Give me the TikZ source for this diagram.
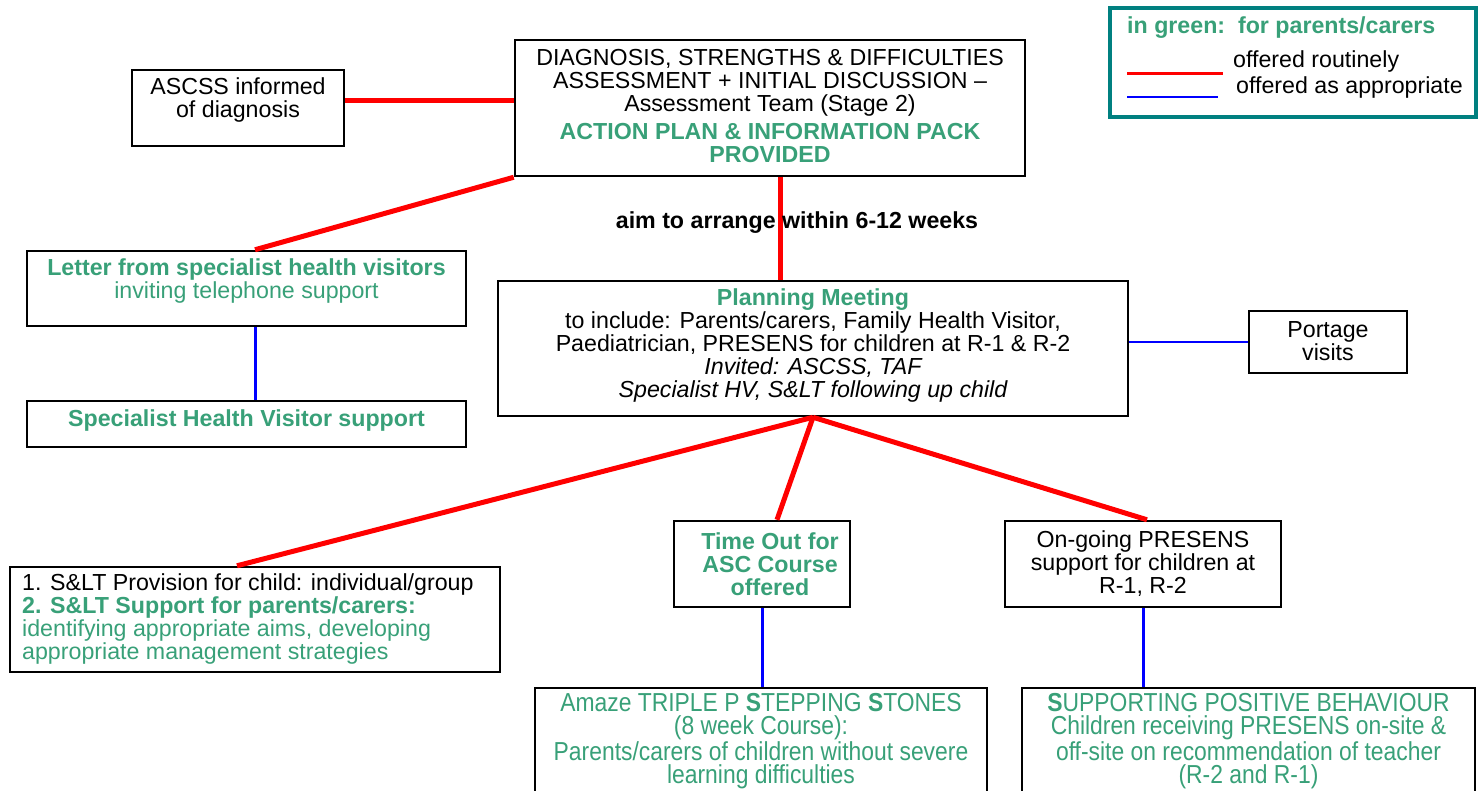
\documentclass[tikz,border=0pt]{standalone}
\usepackage{fontspec}
\setmainfont{Liberation Sans}
\newfontfamily\narrowsf[FakeStretch=0.88]{Liberation Sans}
\definecolor{pgreen}{RGB}{56,160,120}
\definecolor{lteal}{RGB}{0,128,128}
\begin{document}
\begin{tikzpicture}[x=1pt,y=-1pt,
  box/.style={draw=black, line width=2.5pt, rectangle, inner sep=0pt},
  txt/.style={font=\fontsize{23.2}{23}\selectfont, align=center, inner sep=0pt},
  btxt/.style={font=\bfseries\fontsize{23.2}{23}\selectfont, align=center, inner sep=0pt},
  ntxt/.style={font=\narrowsf\fontsize{26}{23.5}\selectfont, align=center, inner sep=0pt},
  routine/.style={draw=red, line width=5pt},
  approp/.style={draw=blue, line width=3pt},
  approptn/.style={draw=blue, line width=1.2pt}]
\useasboundingbox (0,0) rectangle (1478,790);
\clip (0,0) rectangle (1478,790);
% boxes
\node[box, minimum width=212pt, minimum height=76pt] (ascss) at (238,108) {};
\node[box, minimum width=510pt, minimum height=136pt] (top) at (770,108) {};
\node[draw=lteal, line width=3.5pt, rectangle, inner sep=0pt, minimum width=366pt, minimum height=109pt] (legend) at (1293,62.5) {};
\node[box, minimum width=439pt, minimum height=75pt] (letter) at (246.5,288.5) {};
\node[box, minimum width=439pt, minimum height=46pt] (shv) at (246.5,424) {};
\node[box, minimum width=630pt, minimum height=135pt] (plan) at (813,348.5) {};
\node[box, minimum width=158pt, minimum height=62pt] (portage) at (1328,342) {};
\node[box, minimum width=490pt, minimum height=105pt] (slt) at (255,619.5) {};
\node[box, minimum width=176pt, minimum height=86pt] (tout) at (762,564) {};
\node[box, minimum width=276pt, minimum height=86pt] (ongo) at (1143,564) {};
\node[box, minimum width=452pt, minimum height=122pt] (amaze) at (761,749) {};
\node[box, minimum width=453pt, minimum height=122pt] (spb) at (1248.5,749) {};
% connectors
\draw[routine] ([yshift=8pt]ascss.east) -- ([yshift=8pt]top.west);
\draw[routine] (top.south west) -- ([xshift=8.5pt]letter.north);
\draw[routine] ([xshift=10pt]top.south) -- ([xshift=-33pt]plan.north);
\draw[approp] ([xshift=8.5pt]letter.south) -- ([xshift=8.5pt]shv.north);
\draw[approptn] (plan.east |- portage.west) -- (portage.west);
\draw[routine] (plan.south) -- ([xshift=-18pt]slt.north);
\draw[routine] (plan.south) -- ([xshift=15pt]tout.north);
\draw[routine] (plan.south) -- ([xshift=4pt]ongo.north);
\draw[approp] (tout.south) -- (tout.south |- amaze.north);
\draw[approp] (ongo.south) -- (ongo.south |- spb.north);
% legend lines
\coordinate (r1) at (1127,73); \coordinate (r2) at (1223,73);
\coordinate (b1) at (1127,97); \coordinate (b2) at (1218,97);
\draw[red, line width=3pt] (r1) -- (r2);
\draw[blue, line width=1.5pt] (b1) -- (b2);
% texts
\node[txt] (tascss) at (238,100) {ASCSS informed\\of diagnosis};
\node[txt] (ttop) at (770,106) {DIAGNOSIS, STRENGTHS \& DIFFICULTIES\\ASSESSMENT + INITIAL DISCUSSION --\\Assessment Team (Stage 2)\\[5pt]
  \textcolor{pgreen}{\bfseries ACTION PLAN \& INFORMATION PACK}\\\textcolor{pgreen}{\bfseries PROVIDED}};
\node[btxt, anchor=west, text=pgreen] (tleg) at (1127,28) {in green:\ \ for parents/carers};
\node[txt, anchor=west] (tleg1) at (1233,62) {offered routinely};
\node[txt, anchor=west] (tleg2) at (1236,87) {offered as appropriate};
\node[btxt] (taim) at (797,223) {aim to arrange within 6-12 weeks};
\node[txt, text=pgreen] (tletter) at (246.5,281) {\bfseries Letter from specialist health visitors\\inviting telephone support};
\node[btxt, text=pgreen] (tshv) at (246.5,420) {Specialist Health Visitor support};
\node[txt] (tplan) at (813,345) {\textcolor{pgreen}{\bfseries Planning Meeting}\\to include: Parents/carers, Family Health Visitor,\\Paediatrician, PRESENS for children at R-1 \& R-2\\\itshape Invited: ASCSS, TAF\\\itshape Specialist HV, S\&LT following up child};
\node[txt] (tport) at (1328,341) {Portage\\visits};
\node[txt, anchor=west, align=left] (tslt) at (22,619) {1. S\&LT Provision for child: individual/group\\\textcolor{pgreen}{\bfseries 2. S\&LT Support for parents/carers:}\\\textcolor{pgreen}{identifying appropriate aims, developing}\\\textcolor{pgreen}{appropriate management strategies}};
\node[btxt, text=pgreen] (ttout) at (770,564) {Time Out for\\ASC Course\\offered};
\node[txt] (tongo) at (1143,564) {On-going PRESENS\\support for children at\\R-1, R-2};
\node[ntxt, text=pgreen] (tamaze) at (761,741) {Amaze TRIPLE P \textbf{S}TEPPING \textbf{S}TONES\\(8 week Course):\\Parents/carers of children without severe\\learning difficulties};
\node[ntxt, text=pgreen] (tspb) at (1248.5,741) {\textbf{S}UPPORTING POSITIVE BEHAVIOUR\\Children receiving PRESENS on-site \&\\off-site on recommendation of teacher\\(R-2 and R-1)};
\end{tikzpicture}
\end{document}
